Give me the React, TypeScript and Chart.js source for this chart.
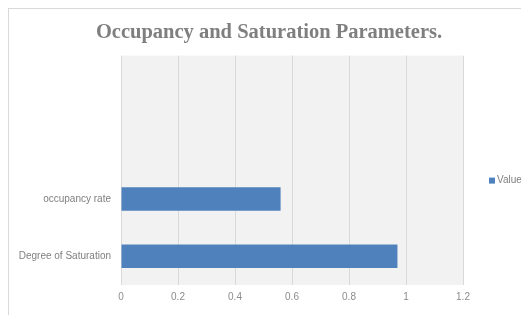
import React, { useEffect, useRef } from "react";
import { Chart, registerables } from "chart.js";

Chart.register(...registerables);

const categories = ["", "", "occupancy rate", "Degree of Saturation"];
const values = [null, null, 0.56, 0.97];
const xTicks = [0, 0.2, 0.4, 0.6, 0.8, 1, 1.2];
const seriesName = "Value";
const titleText = "Occupancy and Saturation Parameters.";
const barColor = "#4f81bd";

const plotBg = {
  id: "plotBg",
  beforeDraw(chart: any) {
    const { ctx, chartArea } = chart;
    ctx.save();
    ctx.fillStyle = "#f2f2f2";
    ctx.fillRect(chartArea.left, chartArea.top, chartArea.right - chartArea.left, chartArea.bottom - chartArea.top);
    ctx.restore();
  },
};

const sideLegend = {
  id: "sideLegend",
  afterDraw(chart: any) {
    const { ctx, chartArea } = chart;
    const ds = chart.data.datasets[0];
    const x = chartArea.right + 26;
    const y = chartArea.top + 125;
    ctx.save();
    ctx.fillStyle = ds.backgroundColor;
    ctx.fillRect(x, y - 3, 6, 6);
    ctx.fillStyle = "#7f7f7f";
    ctx.font = "10px 'Liberation Sans'";
    ctx.textBaseline = "middle";
    ctx.textAlign = "left";
    ctx.fillText(ds.label, x + 8, y);
    ctx.restore();
  },
};

export default function App() {
  const ref = useRef<HTMLCanvasElement>(null);
  useEffect(() => {
    const chart = new Chart(ref.current!, {
      type: "bar",
      data: {
        labels: categories,
        datasets: [
          {
            label: seriesName,
            data: values as any,
            backgroundColor: barColor,
            borderWidth: 0,
            categoryPercentage: 1,
            barPercentage: 0.41,
          },
        ],
      },
      plugins: [plotBg, sideLegend],
      options: {
        indexAxis: "y",
        animation: false,
        responsive: false,
        devicePixelRatio: 1,
        layout: { padding: 0 },
        plugins: {
          title: {
            display: true,
            text: titleText,
            color: "#7f7f7f",
            font: { family: "Liberation Serif", size: 20.5, weight: "bold" },
            padding: { top: 11, bottom: 11 },
          },
          legend: { display: false },
          tooltip: { enabled: false },
        },
        scales: {
          x: {
            min: 0,
            max: 1.2,
            afterBuildTicks: (scale: any) => {
              scale.ticks = xTicks.map((v) => ({ value: v }));
            },
            afterFit: (scale: any) => {
              scale.height = 30;
            },
            ticks: {
              color: "#8c8c8c",
              font: { family: "Liberation Sans", size: 10 },
              padding: 6,
              callback: (v: any) => String(Number(Number(v).toFixed(1))),
            },
            grid: { color: "#d9d9d9", drawTicks: false },
            border: { display: false },
          },
          y: {
            afterFit: (scale: any) => {
              scale.width = 112;
            },
            ticks: {
              color: "#7f7f7f",
              font: { family: "Liberation Sans", size: 10 },
              padding: 10,
            },
            grid: { display: false, drawTicks: false },
            border: { display: false },
          },
          legendSpace: {
            type: "linear",
            position: "right",
            afterFit: (scale: any) => {
              scale.width = 66;
            },
            ticks: { display: false },
            grid: { display: false, drawTicks: false },
            border: { display: false },
          },
        },
      },
    } as any);
    return () => chart.destroy();
  }, []);
  return (
    <div
      style={{
        width: 520,
        height: 306,
        borderTop: "1px solid #d9d9d9",
        borderLeft: "1px solid #d9d9d9",
        background: "#fff",
      }}
    >
      <canvas ref={ref} width={520} height={306} style={{ display: "block" }} />
    </div>
  );
}
